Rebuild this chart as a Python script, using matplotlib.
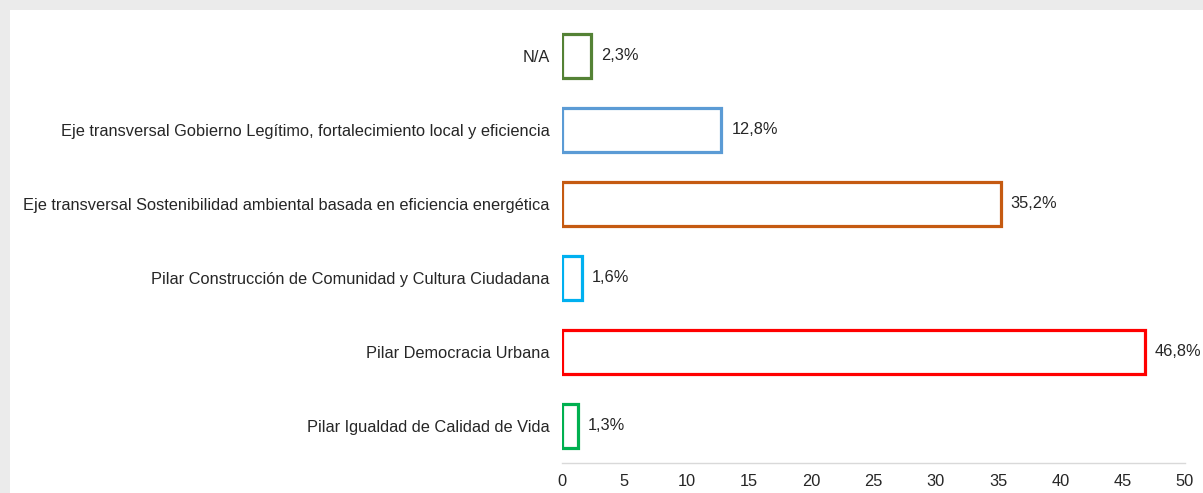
import matplotlib.pyplot as plt
from matplotlib.patches import Rectangle

plt.rcParams['font.family'] = ['Liberation Sans', 'DejaVu Sans']

categorias = [
    "Pilar Igualdad de Calidad de Vida",
    "Pilar Democracia Urbana",
    "Pilar Construcción de Comunidad y Cultura Ciudadana",
    "Eje transversal Sostenibilidad ambiental basada en eficiencia energética",
    "Eje transversal Gobierno Legítimo, fortalecimiento local y eficiencia",
    "N/A",
]
valores = [1.3, 46.8, 1.6, 35.2, 12.8, 2.3]
colores = ["#00B050", "#FF0000", "#00B0F0", "#C55A11", "#5B9BD5", "#548235"]
ticks_x = [0, 5, 10, 15, 20, 25, 30, 35, 40, 45, 50]

fig = plt.figure(figsize=(12.03, 4.93), dpi=100)
fig.patch.set_facecolor("#EBEBEB")
# white card with a soft grey edge at top and left
fig.patches.append(Rectangle((10 / 1203, 0), 1, 1 - 10 / 493,
                             transform=fig.transFigure, facecolor="white",
                             edgecolor="none", zorder=-5))

ax = fig.add_axes([562 / 1203, 1 - 463 / 493, (1185 - 562) / 1203, (463 - 19) / 493])
ax.set_facecolor("none")
ax.set_zorder(2)

pos = list(range(len(categorias)))
ax.barh(pos, valores, height=0.6, facecolor="white", edgecolor=colores, linewidth=2.3)

for p, v in zip(pos, valores):
    ax.text(v + 0.8, p, f"{v:.1f}%".replace(".", ","), va="center", ha="left",
            fontsize=11.8, color="#262626")

ax.set_xlim(0, 50)
ax.set_ylim(-0.5, 5.5)
ax.set_xticks(ticks_x)
ax.set_yticks(pos)
ax.set_yticklabels(categorias)
ax.tick_params(axis="both", length=0, labelsize=11.8, labelcolor="#262626")
ax.tick_params(axis="y", pad=9)
ax.tick_params(axis="x", pad=8)

for s in ["top", "right", "left"]:
    ax.spines[s].set_visible(False)
ax.spines["bottom"].set_color("#D9D9D9")
ax.spines["bottom"].set_linewidth(1)

fig.savefig("out.png", dpi=100, facecolor=fig.get_facecolor())
